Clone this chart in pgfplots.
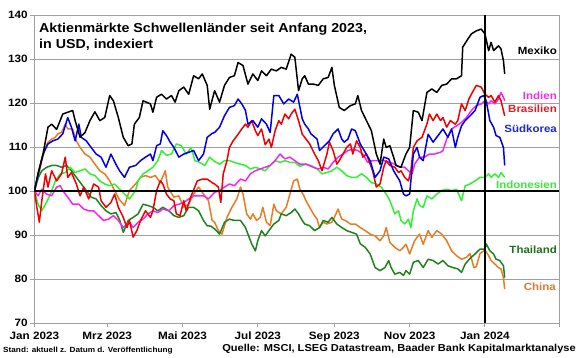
\documentclass[border=0pt]{standalone}
\usepackage{fontspec}
\setmainfont{Liberation Sans}[FakeStretch=1.1]
\usepackage{pgfplots}
\pgfplotsset{compat=1.18}
\definecolor{gridgray}{RGB}{160,160,160}
\definecolor{korblue}{RGB}{0,0,230}
\definecolor{brared}{RGB}{240,0,0}
\definecolor{indmag}{RGB}{240,40,240}
\definecolor{indogreen}{RGB}{50,240,50}
\definecolor{chiorange}{RGB}{230,125,35}
\definecolor{thagreen}{RGB}{30,130,30}
\definecolor{lblmag}{RGB}{230,50,230}
\definecolor{lblred}{RGB}{220,30,40}
\definecolor{lblblue}{RGB}{30,40,200}
\definecolor{lblgreen}{RGB}{60,230,60}
\definecolor{lbldgreen}{RGB}{30,110,30}
\definecolor{lblorange}{RGB}{220,120,50}
\begin{document}
\begin{tikzpicture}
\useasboundingbox (-34.4bp,-35bp) rectangle (545.6bp,323bp);
\begin{axis}[
  at={(0,0)}, anchor=south west,
  scale only axis, width=524.6bp, height=308bp,
  xmin=0, xmax=425, ymin=70, ymax=140,
  xtick={0,59,120,181,243,304,365,425},
  xticklabels={Jan 2023,Mrz 2023,Mai 2023,Jul 2023,Sep 2023,Nov 2023,Jan 2024,{}},
  ytick={70,80,90,100,110,120,130,140},
  ymajorgrids, grid style={gridgray, line width=0.9bp},
  axis line style={gridgray, line width=0.9bp},
  tick align=outside, xtick pos=bottom, ytick pos=left,
  major tick length=4bp,
  tick style={gridgray, line width=0.9bp},
  /pgf/number format/assume math mode=true,
  ticklabel style={font=\bfseries\fontsize{10.7}{12}\selectfont, inner sep=0pt},
  xticklabel style={anchor=north, yshift=-4.5bp},
  yticklabel style={anchor=east, xshift=-2.5bp},
  every axis plot/.append style={line width=1.5bp, mark=none, line join=round},
]
\addplot[chiorange] table {
0 100
3 103
6 106.9
9 109.9
11 111.1
14 111.8
17 112.2
19 113
22 113.3
25 115.2
27 114.1
31 114.1
34 111.4
37 109.9
41 108.4
45 107.7
49 106.1
53 104.6
57 103.9
61 102.3
65 100.1
69 98
73 96.7
77 100.1
82 101.6
86 103.1
90 103.5
94 103.1
98 103.5
102 101.9
106 104.6
108 100.9
113 98.6
117 98.9
121 96.3
125 97
129 99.3
133 100.9
137 99.3
141 97.8
144 93.3
146 92.9
149 91
152 90.2
156 94
160 96.3
164 98.2
167 100.9
169 99.3
172 94.8
175 93.6
177 94.8
180 93.3
183 94
185 96.3
188 92.9
191 92.1
194 97
196 95.5
200 94.8
204 96.3
207 99.3
210 102.3
213 102.7
215 100.5
218 99.1
220 97.8
223 96.3
226 94.8
229 93.6
231 91.7
234 92.9
237 92.5
241 92.9
243 94
246 95.9
249 93.6
252 93.3
256 92.5
260 92.5
264 91.7
268 91
272 90.2
276 89.8
280 88.7
283 89.8
285 91.7
288 88.3
292 87.2
296 86.4
299 87.2
301 87.9
304 85.7
308 88.7
312 90.2
315 87.9
319 91
322 89.5
326 91
330 90.2
334 88.7
338 86.4
342 85.3
346 84.5
350 84.9
353 85.8
356 82.6
358 82.8
361 85.8
365 86.6
368 85.3
370 84.2
373 83.4
376 82.6
378 82.3
380 80.3
381 77.7
};
\addplot[thagreen] table {
0 100
3 103
6 104.6
10 105.4
14 105.8
18 105.8
22 105.4
26 105.8
30 104.6
34 103.1
38 101.6
42 100.1
46 98.6
50 98.2
54 96.7
58 95.5
62 94.8
66 95.1
69 93.5
72 90.6
76 93.3
80 94
84 94.8
88 97
92 96.7
96 96.3
100 95.5
104 96.3
109 95.5
113 94.4
117 94
121 94.4
125 96.3
129 96.3
133 95.5
137 93.3
140 92.1
143 92
146 91.4
150 90.2
154 92.9
158 93.6
162 93.3
167 93.3
171 91.7
173 90.2
176 88
179 86.4
181 88.7
184 91
187 89.8
190 91
194 92.5
198 93.3
200 94.8
204 94.4
208 95.1
211 95.9
214 94.8
217 93.3
219 92.5
223 92.1
227 91
231 91.7
234 93.3
238 92.9
241 94
245 92.5
249 91.7
253 91
257 90.6
261 90.2
264 88
268 87.2
272 85.7
276 82.6
280 81.9
284 82.6
287 84.2
289 82.6
292 81.1
296 81.5
299 80.8
301 81.9
304 81.1
307 83.8
311 84.2
315 82.6
319 84.5
323 84.2
327 83.4
331 84.2
335 83
339 82.6
343 82.3
346 81.5
349 83.4
353 84.7
357 85.7
361 86.8
365 86.8
366 88
369 86.4
372 85.7
374 84.5
377 84.2
380 83
381 80.3
};
\addplot[indogreen] table {
0 100
3 97
6 95.5
9 97
13 99.3
17 102.3
21 103.9
25 104.2
29 105.4
33 104.2
37 104.6
41 105
45 103.9
49 103.5
53 102.3
57 101.6
61 101.2
65 101.6
69 100.4
73 99.3
77 98.2
82 100.1
84 102.3
88 103.9
92 104.6
96 105.4
100 106.9
103 109.2
107 108.1
111 108.4
115 110.7
119 110.3
123 108.4
127 109.9
130 106.9
134 106.5
138 105.8
142 107.7
146 106.7
150 106.1
154 106.9
158 106.9
162 106.5
167 106.1
171 105.8
175 105
179 105.4
183 105
187 104.6
191 105.8
195 106.9
199 106.5
203 106.9
207 106.5
211 106.5
215 105.6
220 106.1
224 105.8
229 105
233 103.9
237 104.2
241 104.6
245 105.4
249 104.6
253 103.5
257 103.1
261 103.1
265 103.9
269 103.1
273 101.9
277 101.6
281 100.9
285 99.3
288 97.8
292 94.8
295 95.5
297 93.3
300 92.5
303 93.6
305 91.7
307 95.5
310 98.2
312 96.7
315 96.3
318 98.9
322 98.2
326 99.3
330 100.1
334 100.4
338 100.1
342 100.4
346 97.8
349 101.2
353 101.6
357 102.3
361 103.1
365 103.1
368 103.9
370 103.1
373 103.9
376 103.1
378 104.2
381 103.1
};
\addplot[indmag] table {
0 100
3 98.9
6 100.4
10 99.3
14 98.9
18 100.9
21 101.2
23 100.1
27 98.6
31 97
36 97
40 95.9
44 95.5
48 95.5
52 94.4
56 93.3
60 93.6
64 94.4
68 93.3
72 91.7
77 92.9
80 91.7
84 92.9
88 93.6
92 94.8
96 95.5
100 95.1
104 95.9
109 95.5
113 96.7
117 97
121 97.4
125 98.2
129 98.9
133 98.9
137 98.9
141 98.2
146 99.7
150 100.1
154 100.9
158 101.6
162 101.2
167 102.7
171 102.3
175 103.9
179 104.6
183 105
187 105.4
191 105.8
195 106.9
199 108.4
203 107.3
207 107.7
211 106.9
215 106.1
220 106.1
226 105.4
230 105
234 105.4
238 105
242 106.5
246 107.7
250 108.4
254 109.2
258 109.5
262 109.2
266 108.4
270 106.5
274 106.9
279 106.9
283 106.9
288 106.5
292 106.1
296 105.4
300 105.4
303 104.6
306 103.9
308 106.1
312 107.7
316 107.7
320 108.4
324 108.4
329 108.8
331 109.2
334 111.8
338 114.1
342 114.8
346 115.6
350 116.7
354 118.3
358 119.4
362 119.8
365 120.5
368 119.8
370 120.5
373 119.8
376 120.9
378 122.4
380 121.3
381 120.5
};
\addplot[brared] table {
0 100
2 96.3
4 92.9
6 97.8
9 103.9
11 100.9
14 104.6
18 102.3
22 103.9
25 107.7
27 103.1
30 104.2
34 101.6
37 98.9
40 100.9
44 98.2
48 101.6
52 100.9
54 97.8
58 96.3
62 97.4
65 99.3
68 96.3
72 94
75 91.7
77 93.3
80 89.5
83 91
86 93.3
90 95.5
94 94
96 95.5
99 100.1
102 102.3
104 101.6
107 99.3
110 98.2
113 97.8
115 94.8
118 94.4
121 97.8
123 95.5
127 98.9
132 102.3
136 102.7
140 102.7
144 101.9
146 101.6
149 100.9
151 97.4
153 103.9
156 106.9
158 109.9
161 111.4
165 112.9
168 114.1
171 115.2
173 114.5
176 116
179 113.7
181 112.6
184 114.1
187 110.5
190 111.8
192 109.9
195 113.7
198 116
200 115.2
203 117.5
206 116.4
208 117.5
211 118.6
214 116
217 112.9
219 112.2
223 110.7
227 108.4
230 106.9
233 104.6
237 108.4
239 111.1
242 109.2
245 106.1
247 106.9
250 108.4
253 109.9
256 110.7
258 108.4
261 111.4
264 109.9
266 107.7
269 108.4
272 106.1
274 104.6
277 100.9
280 101.6
283 105.4
285 106.9
288 105.8
292 105.4
295 104.2
297 104.6
300 103.1
303 102.3
305 104.6
307 109.9
310 111.4
314 112.2
318 115.2
320 117.5
323 116
326 117.5
329 116
331 116.7
334 114.5
337 116
341 115.2
343 116
346 119.8
349 118.3
352 120.9
354 122
358 124
362 123.6
365 122
368 121.3
370 121.7
373 120.2
376 121.7
378 120.5
381 117.1
};
\addplot[korblue] table {
0 100
3 103.9
7 108.4
11 110.7
15 111.4
19 111.8
23 113
27 116.7
30 114.5
33 111.4
36 115.2
38 112.2
42 111.4
46 109.9
50 108.4
54 107.7
58 105.4
62 108.4
66 106.1
69 104.6
73 103.1
77 105.4
82 105.8
86 106.9
90 107.7
94 108.4
96 106.9
99 110.3
102 110.7
104 113.7
107 112.6
110 111.1
113 109.9
117 107.7
121 108.4
125 108.8
129 109.2
133 106.9
137 108.4
140 112.2
144 113.1
146 113.3
150 114.5
154 117.1
158 119
162 119.4
165 120.9
168 119.8
171 118.3
173 115.2
177 116
181 114.5
184 116.4
188 115.2
191 113.3
194 121.7
198 121.7
202 119.8
206 120.9
210 120.2
213 122
217 116.4
219 115.2
222 114.1
224 113
229 111.8
231 109.2
235 110.3
239 111.4
242 113
246 114.1
249 111.8
251 111.1
254 111.8
257 114.1
260 113.7
264 110.7
268 108.8
272 106.9
276 103.1
280 104.6
283 107.7
287 107.3
291 104.6
296 102.3
299 99.3
301 98.9
304 99.3
307 108.4
310 109.9
312 107.7
315 106.9
319 112.9
323 111.1
327 112.6
331 114.1
335 112.2
338 114.1
341 109.9
343 112.2
346 114.8
349 116
353 117.1
357 118.3
361 121.3
364 121.7
366 120.5
369 116
372 114.5
374 112.6
377 112.2
380 109.9
381 105.8
};
\addplot[black] table {
0 100
3 104
7 108.4
11 114.5
14 115.2
18 114
23 117.5
27 117.9
31 118.3
33 116
37 112.2
41 113.3
45 116
49 118
53 116
57 116.7
61 121.7
64 120.5
68 116.7
72 112.2
76 110.3
79 110.7
81 115.2
85 116.7
88 120.5
94 119.8
96 117.9
99 121.3
103 122
107 120.9
111 121.7
114 120.2
117 122.8
121 123.6
125 122
129 126.2
133 125.5
136 126.6
140 124
142 118.6
146 122.8
150 120.2
154 124
158 125.8
162 126.2
165 129.2
169 128.5
173 124.3
177 126.6
181 125.1
184 127.3
188 126.2
192 127.7
196 127.3
200 128.1
204 127.7
208 131.1
211 130.4
214 122.8
217 125.5
219 126.2
222 124.3
226 124.3
230 124
234 125.5
238 125.8
241 128.1
243 124
247 119
251 118.3
256 119.4
260 119.8
262 121.7
265 118.3
269 116
273 113.7
277 108.4
280 106.1
283 111.8
285 109.9
288 110.3
291 107.7
293 105.8
297 105.4
301 108.4
304 109.9
307 118.3
311 117.9
314 116
318 122.4
322 123.2
326 122.4
330 124
334 124.3
338 125.5
342 125.5
346 126.2
347 132.7
352 134.9
354 135.7
358 136.4
362 136.8
365 135.7
368 131.9
370 133.8
372 131.9
376 133
378 132.3
380 129.6
381 126.6
};
\addplot[black, line width=1.6bp] coordinates {(0,100) (425,100)};
\addplot[black, line width=1.6bp] coordinates {(365,70) (365,140)};
\node[anchor=base west, inner sep=0pt, font=\bfseries\fontsize{13}{16}\selectfont] at ([xshift=4.6bp, yshift=-17bp]rel axis cs:0,1) {Aktienmärkte Schwellenländer seit Anfang 2023,};
\node[anchor=base west, inner sep=0pt, font=\bfseries\fontsize{13}{16}\selectfont] at ([xshift=4.6bp, yshift=-33bp]rel axis cs:0,1) {in USD, indexiert};
\begin{scope}[every node/.style={anchor=east, inner sep=0pt, font=\bfseries\fontsize{10.5}{12}\selectfont}]
\node[black] at ([xshift=-2bp]axis cs:425,131.9) {Mexiko};
\node[lblmag] at ([xshift=-2bp]axis cs:425,121.6) {Indien};
\node[lblred] at ([xshift=-2bp]axis cs:425,118.6) {Brasilien};
\node[lblblue] at ([xshift=-2bp]axis cs:425,114.1) {Südkorea};
\node[lblgreen] at ([xshift=-2bp]axis cs:425,101.4) {Indonesien};
\node[lbldgreen] at ([xshift=-2bp]axis cs:425,86.6) {Thailand};
\node[lblorange] at ([xshift=-3bp]axis cs:425,78.2) {China};
\end{scope}
\end{axis}
\node[anchor=base west, inner sep=0pt, font=\bfseries\fontsize{7.5}{9}\selectfont] at (-31.4bp,-29bp) {Stand: aktuell z. Datum d. Veröffentlichung};
\node[anchor=base east, inner sep=0pt, font=\bfseries\fontsize{10.1}{12}\selectfont] at (541.6bp,-28bp) {Quelle: MSCI, LSEG Datastream, Baader Bank Kapitalmarktanalyse};
\end{tikzpicture}
\end{document}
